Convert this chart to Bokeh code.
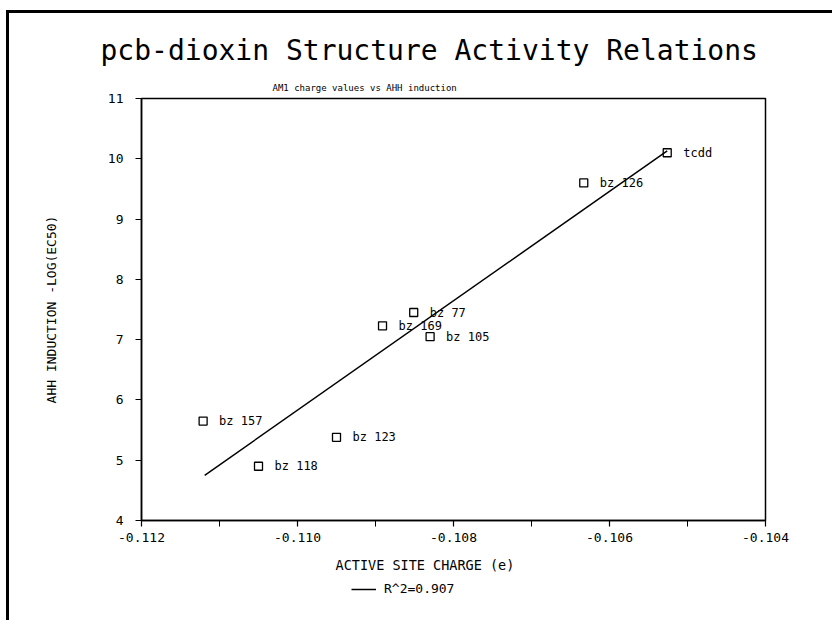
from bokeh.plotting import figure
from bokeh.layouts import column
from bokeh.models import (FixedTicker, PrintfTickFormatter, Title, Legend, LegendItem,
                          ColumnDataSource, Range1d, InlineStyleSheet)
from bokeh.embed import file_html
from bokeh.resources import INLINE
from bokeh.core.properties import value

MONO = "DejaVu Sans Mono"

# ---- data ----
compound = ["tcdd", "bz  126", "bz  77", "bz  169", "bz  105", "bz  157", "bz  123", "bz  118"]
charge = [-0.10526, -0.10633, -0.10851, -0.10891, -0.10830, -0.11121, -0.10950, -0.11050]
induction = [10.10, 9.60, 7.45, 7.23, 7.05, 5.65, 5.38, 4.90]
fit_charge = [-0.11119, -0.10526]
fit_induction = [4.75, 10.13]
x_ticks = [-0.112, -0.110, -0.108, -0.106, -0.104]
x_minor_ticks = [-0.111, -0.109, -0.107, -0.105]
y_ticks = [4, 5, 6, 7, 8, 9, 10, 11]
fit_label = "R^2=0.907"

src = ColumnDataSource(dict(x=charge, y=induction, name=compound))

p = figure(frame_width=624, frame_height=422,
           x_range=Range1d(-0.112, -0.104), y_range=Range1d(4, 11),
           output_backend="svg", toolbar_location=None, title_location=None,
           min_border_left=141, min_border_right=67,
           min_border_top=98, min_border_bottom=60)

p.grid.visible = False
p.outline_line_color = "black"
p.outline_line_width = 1.5
p.background_fill_color = "white"
p.border_fill_color = "white"

# titles
sub = Title(text="AM1 charge values vs AHH induction", align="left", offset=131,
            text_font=MONO, text_font_size="9px", text_font_style="normal",
            text_color="black", standoff=11)
main = Title(text="pcb-dioxin Structure Activity Relations", align="left", offset=-41,
             text_font=MONO, text_font_size="28px", text_font_style="normal",
             text_color="black", standoff=18)
p.add_layout(sub, "above")
p.add_layout(main, "above")

# axes
xa = p.xaxis[0]
xa.ticker = FixedTicker(ticks=x_ticks, minor_ticks=x_minor_ticks)
xa.formatter = PrintfTickFormatter(format="%.3f")
ya = p.yaxis[0]
ya.ticker = FixedTicker(ticks=y_ticks, minor_ticks=[])
for ax in (xa, ya):
    ax.axis_line_width = 1.5
    ax.axis_line_color = "black"
    ax.major_tick_line_color = "black"
    ax.major_tick_line_width = 1.2
    ax.major_tick_out = 6
    ax.major_tick_in = 0
    ax.major_label_text_font = MONO
    ax.major_label_text_font_size = "13px"
    ax.major_label_text_color = "black"
xa.minor_tick_line_color = "black"
xa.minor_tick_out = 6
xa.minor_tick_in = 0
xa.major_label_standoff = 6
ya.minor_tick_out = 0
ya.minor_tick_in = 0
ya.major_label_standoff = 12

ya.axis_label = "AHH INDUCTION -LOG(EC50)"
ya.axis_label_text_font = MONO
ya.axis_label_text_font_size = "13px"
ya.axis_label_text_font_style = "normal"
ya.axis_label_text_color = "black"
ya.axis_label_standoff = 46

xt = Title(text="ACTIVE SITE CHARGE (e)", align="left", offset=194,
           text_font=MONO, text_font_size="13.5px", text_font_style="normal",
           text_color="black", standoff=20)
p.add_layout(xt, "below")

# data
fit = p.line(fit_charge, fit_induction, line_color="black", line_width=1.5)
p.scatter("x", "y", source=src, marker="square", size=8,
          fill_color=None, line_color="black", line_width=1.3)
p.text("x", "y", text="name", source=src, x_offset=16,
       text_baseline="middle", text_align="left",
       text_font=value(MONO), text_font_size=value("12px"), text_color="black")

# strip under the plot holding the fit-line key
q = figure(width=832, height=38, x_range=Range1d(0, 1), y_range=Range1d(0, 1),
           output_backend="svg", toolbar_location=None, title_location=None,
           x_axis_location=None, y_axis_location=None,
           min_border_left=141, min_border_right=67,
           min_border_top=0, min_border_bottom=0)
q.grid.visible = False
q.outline_line_color = None
q.background_fill_color = "white"
q.border_fill_color = "white"

# the same fit data, lying outside this strip's ranges, only feeds the key glyph
key = q.line(fit_charge, fit_induction, line_color="black", line_width=1.5)
legend = Legend(items=[LegendItem(label=fit_label, renderers=[key])],
                location=(210, 24), orientation="horizontal",
                border_line_alpha=0, background_fill_alpha=0,
                label_text_font=MONO, label_text_font_size="13px",
                label_text_color="black",
                glyph_width=25, glyph_height=12, label_height=12,
                padding=0, margin=0, label_standoff=8)
q.add_layout(legend)

page = column(p, q, spacing=0)
# left and top rule of the scanned page
page.stylesheets = [InlineStyleSheet(css=(
    ":host::after { content: ''; position: absolute; left: 6px; top: 10px; "
    "right: 0px; bottom: 0px; border-left: 3px solid #000; border-top: 3px solid #000; "
    "pointer-events: none; z-index: 10; }"))]

open("out.html", "w").write(file_html(page, INLINE))
